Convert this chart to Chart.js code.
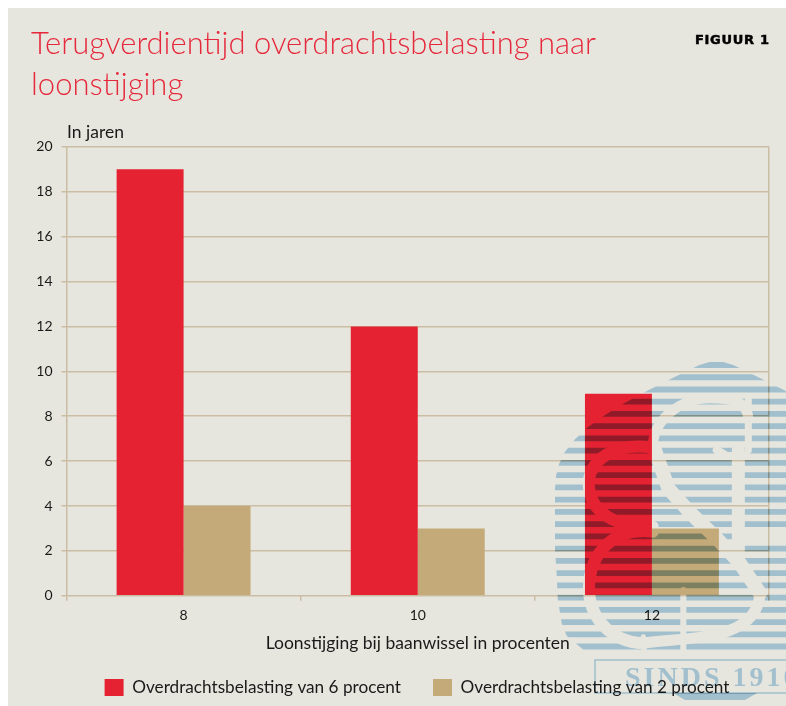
<!DOCTYPE html>
<html><head><meta charset="utf-8">
<script src="https://cdn.jsdelivr.net/npm/chart.js@4"></script>
<style>
html,body{margin:0;padding:0;background:#fff;width:786px;height:706px;overflow:hidden}
#panel{position:absolute;left:8px;top:8px;width:778px;height:698px;background:#e7e6de}
#wrap{position:absolute;left:0;top:0;width:786px;height:706px}
</style></head><body>
<div id="panel"></div>
<div id="wrap"><canvas id="c" width="786" height="706"></canvas></div>
<script>
const categories = ['8', '10', '12'];
const series6Name = 'Overdrachtsbelasting van 6 procent';
const series2Name = 'Overdrachtsbelasting van 2 procent';
const series6 = [19, 12, 9];
const series2 = [4, 3, 3];
const titleLines = ['Terugverdientijd overdrachtsbelasting naar', 'loonstijging'];
const xTitle = 'Loonstijging bij baanwissel in procenten';
const yNote = 'In jaren';
const figureLabel = 'FIGUUR 1';

const FONT = 'Lato';
const GRID = '#cbbda3';

// logo outline, left half, in reference-crop coordinates
const logoLeft = [[529,30],[478,45],[398,84],[325,121],[255,158],[195,195],[143,232],[105,268],[75,305],[57,342],[48,378],[45,415],[45,600],[50,673],[53,745],[65,820],[80,857],[125,895],[165,930],[400,1050]];
function zp(p){return [p[0]/3+540,p[1]/3+350];}

const watermark = {
  id:'watermark',
  afterDraw(chart){
    const W=786,H=706;
    const off=document.createElement('canvas');off.width=W;off.height=H;
    const g=off.getContext('2d');
    g.fillStyle='#a2bfcd';
    g.beginPath();
    logoLeft.forEach((p,i)=>{const q=zp(p);i?g.lineTo(q[0],q[1]):g.moveTo(q[0],q[1]);});
    for(let i=logoLeft.length-1;i>=0;i--){const q=zp([1058-logoLeft[i][0],logoLeft[i][1]]);g.lineTo(q[0],q[1]);}
    g.closePath();g.fill();
    g.globalCompositeOperation='destination-out';
    g.lineCap='round';g.lineJoin='round';g.strokeStyle='#000';
    const s=(w,pts)=>{g.lineWidth=w;g.beginPath();
      let a=zp(pts[0]);g.moveTo(a[0],a[1]);
      for(let i=1;i+2<pts.length;i+=3){const b=zp(pts[i]),c=zp(pts[i+1]),d=zp(pts[i+2]);g.bezierCurveTo(b[0],b[1],c[0],c[1],d[0],d[1]);}
      g.stroke();};
    const l=(w,pts)=>{g.lineWidth=w;g.beginPath();pts.forEach((p,i)=>{const q=zp(p);i?g.lineTo(q[0],q[1]):g.moveTo(q[0],q[1]);});g.stroke();};
    // upper loop
    s(10,[[338,300],[335,210],[420,145],[510,145],[570,145],[625,150],[625,210]]);
    l(7,[[625,150],[625,300]]);
    l(8,[[530,300],[560,318],[620,318]]);
    // S diagonal
    l(14,[[345,300],[385,415],[450,488],[527,562],[600,640],[660,730]]);
    // left lobes
    s(12,[[335,292],[200,275],[135,350],[148,420],[160,500],[250,535],[338,530]]);
    s(12,[[338,545],[220,530],[150,610],[147,710],[145,800],[210,875],[310,880]]);
    // lower right
    s(11,[[310,880],[430,860],[650,880],[660,730]]);
    // verticals
    l(13,[[595,300],[595,610]]);
    l(6,[[430,720],[430,900]]);
    l(5,[[310,860],[312,905]]);
    s(11,[[620,560],[680,545],[720,555],[760,575]]);
    // keep stripes only
    g.globalCompositeOperation='destination-in';
    g.fillStyle='#000';
    g.beginPath();
    for(let y=365;y<655;y+=12.24){g.rect(0,y-2.9,W,5.8);}
    g.fill();
    g.globalCompositeOperation='source-over';
    const c=chart.ctx;
    c.save();
    c.globalCompositeOperation='multiply';
    c.drawImage(off,0,0);
    c.strokeStyle='#a2bfcd';c.lineWidth=1.5;
    c.strokeRect(595,660,230,33);
    c.fillStyle='#a2bfcd';
    c.beginPath();c.moveTo(673,693);c.lineTo(757,693);c.lineTo(745,700);c.lineTo(685,700);c.closePath();c.fill();
    c.font='bold 28px "Liberation Serif"';
    c.textAlign='left';c.textBaseline='alphabetic';
    c.letterSpacing='3px';
    c.fillText('SINDS 1910',625,686);
    c.restore();
  }
};

const labels = {
  id:'labels',
  afterLayout(chart){
    const lg=chart.legend;
    lg.left+=17;lg.right+=17;
  },
  afterDraw(chart){
    const c=chart.ctx;c.save();
    c.fillStyle='#1a1a1a';c.textAlign='left';c.textBaseline='alphabetic';
    c.font='17.5px '+FONT;
    c.fillText(yNote,67,138);
    c.fillStyle='#000';c.strokeStyle='#000';c.lineWidth=0.5;
    c.font='900 13px "DejaVu Sans"';
    c.letterSpacing='0.7px';
    c.fillText(figureLabel,695,44);
    c.strokeText(figureLabel,695,44);
    c.restore();
  }
};

new Chart(document.getElementById('c'),{
  type:'bar',
  data:{labels:categories,datasets:[
    {label:series6Name,data:series6,backgroundColor:'#e42231',categoryPercentage:0.572,barPercentage:1},
    {label:series2Name,data:series2,backgroundColor:'#c4aa78',categoryPercentage:0.572,barPercentage:1}
  ]},
  plugins:[watermark,labels],
  options:{
    responsive:false,animation:false,
    layout:{padding:{left:31,right:17,top:24,bottom:0}},
    plugins:{
      tooltip:{enabled:false},
      title:{display:true,text:titleLines,align:'start',color:'#e5283b',
        font:{family:FONT,size:31,weight:'300',lineHeight:1.32},
        padding:{top:0,bottom:41}},
      legend:{position:'bottom',align:'center',
        labels:{boxWidth:19,boxHeight:17,color:'#1a1a1a',padding:32,font:{family:FONT,size:17.2}}}
    },
    scales:{
      x:{
        afterFit(s){s.height=51;},
        grid:{offset:true,tickLength:5,tickColor:GRID,
          color:(ctx)=>(ctx.index===0||ctx.index===undefined)?GRID:'rgba(0,0,0,0)',lineWidth:1.5},
        border:{display:false},
        ticks:{color:'#1a1a1a',padding:6,font:{family:FONT,size:14},maxRotation:0},
        title:{display:true,text:xTitle,color:'#1a1a1a',font:{family:FONT,size:17.5},padding:{top:0,bottom:-7}}
      },
      y:{
        min:0,max:20,
        afterFit(s){s.width=35.5;},
        grid:{color:GRID,lineWidth:1.5,tickLength:5,tickColor:GRID},
        border:{display:false},
        ticks:{stepSize:2,color:'#1a1a1a',padding:9,font:{family:FONT,size:14}}
      }
    }
  }
});
</script>
</body></html>
